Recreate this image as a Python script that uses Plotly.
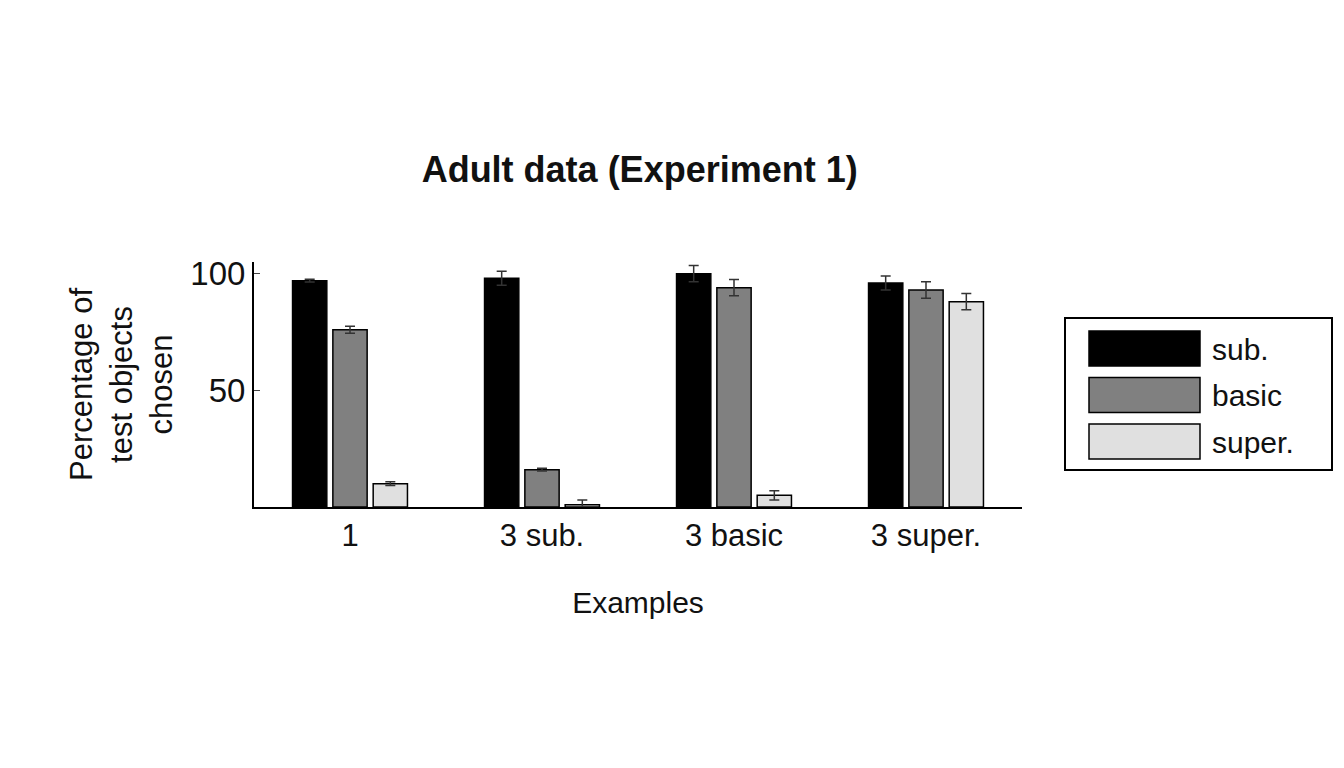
import plotly.graph_objects as go

categories = ['1', '3 sub.', '3 basic', '3 super.']
sub_vals = [97, 98, 100, 96]
sub_err = [0.6, 3, 3.5, 3]
basic_vals = [76, 16, 94, 93]
basic_err = [1.5, 0.6, 3.5, 3.5]
super_vals = [10, 1, 5, 88]
super_err = [0.8, 2, 2, 3.5]
series = [('sub.', sub_vals, sub_err, '#000000'),
          ('basic', basic_vals, basic_err, '#808080'),
          ('super.', super_vals, super_err, '#e0e0e0')]

fig = go.Figure()
for name, vals, errs, col in series:
    fig.add_trace(go.Bar(x=categories, y=vals, name=name, showlegend=False,
                         marker=dict(color=col, line=dict(color='#000000', width=1.5)),
                         error_y=dict(type='data', array=errs, color='#333333', thickness=1.5, width=5)))

# hand-drawn legend with wide swatches (paper coords: plot is 768 x 245 px)
def px(x):
    return (x - 252) / 768.0

def py(y):
    return (507 - y) / 245.0

fig.add_shape(type='rect', xref='paper', yref='paper', x0=px(1063), x1=px(1330), y0=py(470), y1=py(318),
              line=dict(color='black', width=2), fillcolor='white')
for i, (name, vals, errs, col) in enumerate(series):
    top = 331 + i * 46.5
    fig.add_shape(type='rect', xref='paper', yref='paper', x0=px(1087), x1=px(1198), y0=py(top + 35), y1=py(top),
                  line=dict(color='black', width=1.5), fillcolor=col)
    fig.add_annotation(text=name, xref='paper', yref='paper', x=px(1208), y=py(top + 18), xanchor='left',
                       yanchor='middle', showarrow=False, font=dict(size=30))

fig.update_layout(
    width=1344, height=768, barmode='group', bargap=0.37, bargroupgap=0.15,
    plot_bgcolor='white', paper_bgcolor='white',
    font=dict(family='Liberation Sans, Arial', size=30, color='#111111'),
    title=dict(text='<b>Adult data (Experiment 1)</b>', x=0.47, xanchor='center', y=0.79, yanchor='middle',
               font=dict(size=36)),
    margin=dict(l=246, r=330, t=254, b=269),
    xaxis=dict(title=dict(text='Examples', standoff=40, font=dict(size=30)), showline=True, linecolor='black',
               linewidth=2, ticks='', tickfont=dict(size=31)),
    yaxis=dict(title=dict(text='Percentage of<br>test objects<br>chosen', standoff=8, font=dict(size=31)),
               range=[0, 105], tickvals=[50, 100], showline=True, linecolor='black', linewidth=2,
               ticks='inside', ticklen=6, showgrid=False, zeroline=False, tickfont=dict(size=33)),
)
fig.write_html("out.html")
